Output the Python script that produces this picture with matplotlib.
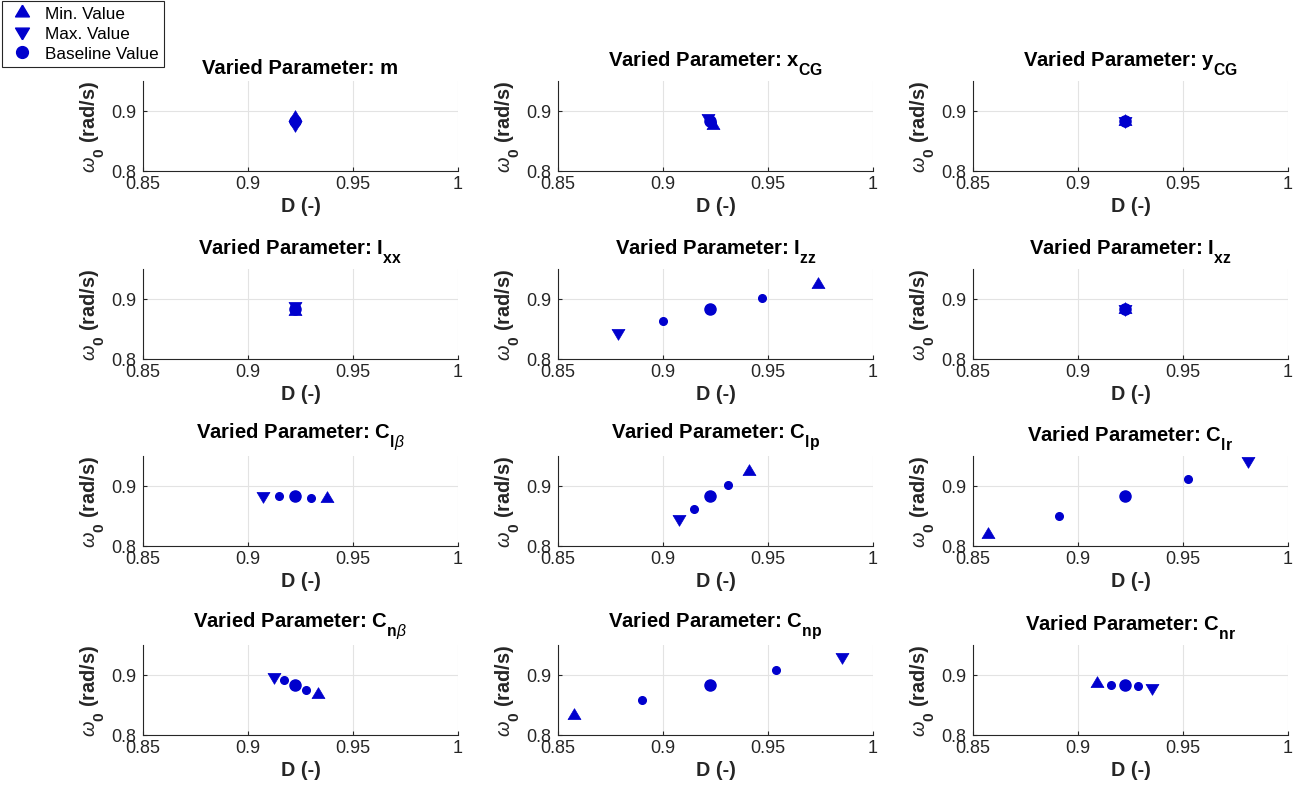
import matplotlib
matplotlib.use("Agg")
import matplotlib.pyplot as plt
from matplotlib.lines import Line2D

# MATLAB-like TeX subscripts: a bit larger and lower than mathtext default
try:
    import matplotlib._mathtext as _mt
    _mt.SHRINK_FACTOR = 0.78
    _mt.FontConstantsBase.sub1 = 0.85
    _mt.FontConstantsBase.sub2 = 0.9
except Exception:
    pass

plt.rcParams['font.family'] = ['Liberation Sans', 'DejaVu Sans']
plt.rcParams['mathtext.fontset'] = 'custom'
plt.rcParams['mathtext.rm'] = 'Liberation Sans'
plt.rcParams['mathtext.it'] = 'Liberation Sans:italic'
plt.rcParams['mathtext.bf'] = 'Liberation Sans:bold'

# panel titles (row by row)
titles = [
    r'Varied Parameter: m',
    r'Varied Parameter: $\mathbf{x}_{\mathbf{CG}}$',
    r'Varied Parameter: $\mathbf{y}_{\mathbf{CG}}$',
    r'Varied Parameter: $\mathbf{I}_{\mathbf{xx}}$',
    r'Varied Parameter: $\mathbf{I}_{\mathbf{zz}}$',
    r'Varied Parameter: $\mathbf{I}_{\mathbf{xz}}$',
    r'Varied Parameter: $\mathbf{C}_{\mathbf{l}\beta}$',
    r'Varied Parameter: $\mathbf{C}_{\mathbf{lp}}$',
    r'Varied Parameter: $\mathbf{C}_{\mathbf{lr}}$',
    r'Varied Parameter: $\mathbf{C}_{\mathbf{n}\beta}$',
    r'Varied Parameter: $\mathbf{C}_{\mathbf{np}}$',
    r'Varied Parameter: $\mathbf{C}_{\mathbf{nr}}$',
]

# damping ratio D and natural frequency w0 for min / max parameter values
D_min = [0.9224, 0.9238, 0.9223, 0.9224, 0.9740, 0.9223,
         0.9375, 0.9411, 0.8571, 0.9332, 0.8576, 0.9090]
W_min = [0.8905, 0.8769, 0.8828, 0.8796, 0.9250, 0.8828,
         0.8794, 0.9252, 0.8206, 0.8688, 0.8336, 0.8867]
D_max = [0.9224, 0.9212, 0.9223, 0.9224, 0.8787, 0.9223,
         0.9073, 0.9078, 0.9808, 0.9125, 0.9852, 0.9354]
W_max = [0.8768, 0.8883, 0.8828, 0.8883, 0.8438, 0.8828,
         0.8832, 0.8443, 0.9410, 0.8962, 0.9300, 0.8780]

# intermediate parameter values (small dots)
D_mid1 = [0.9224, 0.9231, 0.9223, 0.9224, 0.9470, 0.9223,
          0.9300, 0.9308, 0.8908, 0.9276, 0.8902, 0.9156]
W_mid1 = [0.8870, 0.8800, 0.8828, 0.8815, 0.9011, 0.8828,
          0.8794, 0.9017, 0.8508, 0.8743, 0.8576, 0.8827]
D_mid2 = [0.9224, 0.9218, 0.9223, 0.9224, 0.8999, 0.9223,
          0.9148, 0.9149, 0.9522, 0.9173, 0.9540, 0.9284]
W_mid2 = [0.8795, 0.8850, 0.8828, 0.8860, 0.8628, 0.8828,
          0.8839, 0.8618, 0.9118, 0.8911, 0.9079, 0.8817]

# baseline point
D_base = 0.9224
W_base = 0.8830

blue = '#0000cd'
dark = '#262626'

# triangles centred on their centroid, like MATLAB markers
tri_up = [(0, 1), (-0.95, -0.6), (0.95, -0.6), (0, 1)]
tri_dn = [(0, -1), (0.95, 0.6), (-0.95, 0.6), (0, -1)]

fig = plt.figure(figsize=(13.01, 8.03), dpi=100)

lefts = [143, 558, 973]
bottoms = [172, 360, 547, 736]
aw, ah = 315, 90
W, H = 1301, 803

for i in range(12):
    r, c = divmod(i, 3)
    ax = fig.add_axes([lefts[c] / W, 1 - bottoms[r] / H, aw / W, ah / H])
    ax.plot(D_mid1[i], W_mid1[i], 'o', color=blue, ms=5.5, mec=blue)
    ax.plot(D_mid2[i], W_mid2[i], 'o', color=blue, ms=5.5, mec=blue)
    ax.plot(D_base, W_base, 'o', color=blue, ms=8, mec=blue)
    ax.plot(D_min[i], W_min[i], marker=tri_up, ls='none', color=blue, ms=9.8, mec=blue, mew=0.5)
    ax.plot(D_max[i], W_max[i], marker=tri_dn, ls='none', color=blue, ms=9.8, mec=blue, mew=0.5)

    ax.set_xlim(0.85, 1.0)
    ax.set_ylim(0.8, 0.95)
    ax.set_xticks([0.85, 0.9, 0.95, 1.0])
    ax.set_xticklabels(['0.85', '0.9', '0.95', '1'])
    ax.set_yticks([0.8, 0.9])
    ax.set_yticklabels(['0.8', '0.9'])
    ax.grid(True, color='#e3e3e3', lw=0.8)
    ax.set_axisbelow(True)
    for s in ['top', 'right']:
        ax.spines[s].set_visible(False)
    for s in ['left', 'bottom']:
        ax.spines[s].set_color(dark)
        ax.spines[s].set_linewidth(0.8)
    ax.tick_params(direction='in', length=3, width=0.8, color=dark,
                   labelcolor=dark, labelsize=13, pad=3)
    ax.tick_params(axis='y', pad=5)
    ax.set_title(titles[i], fontsize=14.6, fontweight='bold', va='bottom', pad=3)
    ax.set_xlabel('D (-)', fontsize=14.3, fontweight='bold', color=dark, labelpad=3)
    ax.set_ylabel(r'$\omega_{\mathbf{0}}$ (rad/s)', fontsize=14.3,
                  fontweight='bold', color=dark, labelpad=3)

handles = [
    Line2D([], [], ls='none', marker=tri_up, color=blue, ms=10.5),
    Line2D([], [], ls='none', marker=tri_dn, color=blue, ms=10.5),
    Line2D([], [], ls='none', marker='o', color=blue, ms=8.5),
]
leg = fig.legend(handles, ['Min. Value', 'Max. Value', 'Baseline Value'],
                 loc='upper left', bbox_to_anchor=(2 / W, 1 - 2 / H),
                 borderaxespad=0, fancybox=False, edgecolor=dark,
                 framealpha=1, fontsize=12.3, handlelength=1.7,
                 handletextpad=0.5, borderpad=0.3, labelspacing=0.3)
leg.get_frame().set_linewidth(0.8)

fig.savefig('out.png', dpi=100)
